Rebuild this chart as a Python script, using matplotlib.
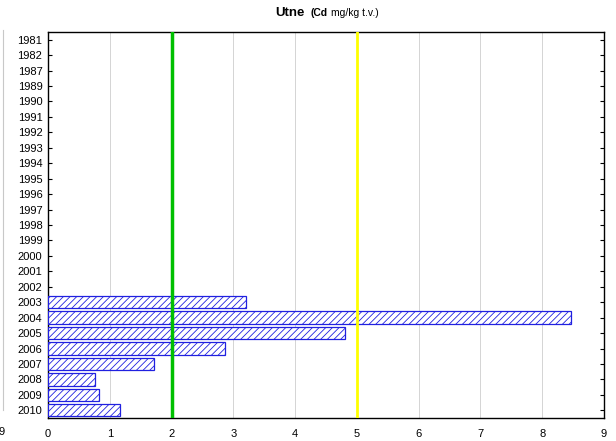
import matplotlib.pyplot as plt
import numpy as np
from matplotlib.lines import Line2D

plt.rcParams['font.family'] = ['Liberation Sans', 'DejaVu Sans']
plt.rcParams['hatch.linewidth'] = 0.6

aarstall = ['1981', '1982', '1987', '1989', '1990', '1991', '1992', '1993',
            '1994', '1995', '1996', '1997', '1998', '1999', '2000', '2001',
            '2002', '2003', '2004', '2005', '2006', '2007', '2008', '2009', '2010']
cd_verdi = [0, 0, 0, 0, 0, 0, 0, 0, 0, 0, 0, 0, 0, 0, 0, 0,
            0, 3.20, 8.46, 4.81, 2.87, 1.72, 0.76, 0.82, 1.17]
grense_gronn = 2
grense_gul = 5

fig = plt.figure(figsize=(6.16, 4.41), dpi=100)
ax = fig.add_axes([48 / 616, 1 - 418 / 441, 556 / 616, 386 / 441])

y = np.arange(len(aarstall))
maske = np.array(cd_verdi) > 0
ax.barh(y[maske], np.array(cd_verdi)[maske], height=0.8, color='white',
        edgecolor='#2020e0', hatch='/////', linewidth=0.9, zorder=3)

ax.axvline(grense_gronn, color='#00c000', lw=2.5, zorder=4)
ax.axvline(grense_gul, color='#ffff00', lw=2.0, zorder=4)

ax.set_xlim(0, 9)
ax.set_ylim(len(aarstall) - 0.5, -0.5)
ax.set_xticks(range(10))
ax.set_yticks(y)
ax.set_yticklabels(aarstall)
ax.grid(axis='x', color='#d4d4d4', lw=0.7, zorder=0)
ax.tick_params(axis='y', direction='in', length=3, left=True, right=True,
               labelsize=8, pad=4)
ax.tick_params(axis='x', length=0, labelsize=8, pad=8)
for s in ax.spines.values():
    s.set_linewidth(1.0)

# tittel i deler
fig.canvas.draw()
r = fig.canvas.get_renderer()
ty = 1 - 13 / 441
t1 = fig.text(0, ty, 'Utne', fontsize=9.5, fontweight='bold', va='center')
t2 = fig.text(0, ty, '(Cd', fontsize=7.5, fontweight='bold', va='center')
t3 = fig.text(0, ty, 'mg/kg t.v.)', fontsize=7.5, va='center')
b1 = t1.get_window_extent(r).width
b2 = t2.get_window_extent(r).width
b3 = t3.get_window_extent(r).width
start = 327 - (b1 + b2 + b3 + 9) / 2
t1.set_x(start / 616)
t2.set_x((start + b1 + 6) / 616)
t3.set_x((start + b1 + b2 + 9) / 616)

# rest av naboplott til venstre
fig.add_artist(Line2D([3 / 616, 3 / 616], [1 - 410 / 441, 1 - 30 / 441],
                      color='#c8c8c8', lw=0.8))
fig.text(2 / 616, 1 - 432 / 441, '9', fontsize=8, ha='center', va='center')

fig.savefig('out.png', dpi=100)
